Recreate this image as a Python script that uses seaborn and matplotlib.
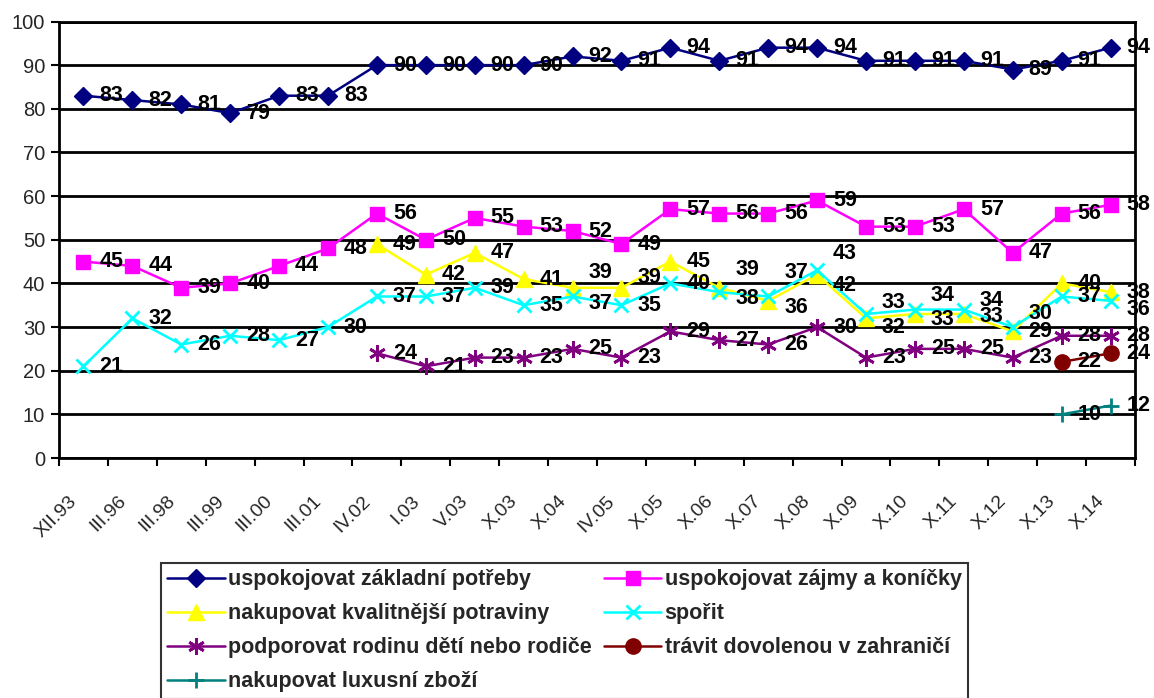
import numpy as np
import pandas as pd
import matplotlib
matplotlib.use("Agg")
import matplotlib.pyplot as plt
import matplotlib.transforms as mtransforms
import seaborn as sns

categories = ["XII.93", "III.96", "III.98", "III.99", "III.00", "III.01", "IV.02", "I.03",
              "V.03", "X.03", "X.04", "IV.05", "X.05", "X.06", "X.07", "X.08", "X.09",
              "X.10", "X.11", "X.12", "X.13", "X.14"]
nan = np.nan
zakladni = [83, 82, 81, 79, 83, 83, 90, 90, 90, 90, 92, 91, 94, 91, 94, 94, 91, 91, 91, 89, 91, 94]
zajmy = [45, 44, 39, 40, 44, 48, 56, 50, 55, 53, 52, 49, 57, 56, 56, 59, 53, 53, 57, 47, 56, 58]
potraviny = [nan, nan, nan, nan, nan, nan, 49, 42, 47, 41, 39, 39, 45, 39, 36, 42, 32, 33, 33, 29, 40, 38]
sporit = [21, 32, 26, 28, 27, 30, 37, 37, 39, 35, 37, 35, 40, 38, 37, 43, 33, 34, 34, 30, 37, 36]
rodina = [nan, nan, nan, nan, nan, nan, 24, 21, 23, 23, 25, 23, 29, 27, 26, 30, 23, 25, 25, 23, 28, 28]
dovolena = [nan] * 20 + [22, 24]
luxus = [nan] * 20 + [10, 12]

series_names = ["uspokojovat základní potřeby", "uspokojovat zájmy a koníčky",
                "nakupovat kvalitnější potraviny", "spořit",
                "podporovat rodinu dětí nebo rodiče", "trávit dovolenou v zahraničí",
                "nakupovat luxusní zboží"]
series_values = [zakladni, zajmy, potraviny, sporit, rodina, dovolena, luxus]

styles = [
    dict(color="#000080", marker="D", ms=9),
    dict(color="#FF00FF", marker="s", ms=10),
    dict(color="#FFFF00", marker="^", ms=11),
    dict(color="#00FFFF", marker="x", ms=10, mew=2),
    dict(color="#800080", marker=(6, 2, 0), ms=12, mew=2),
    dict(color="#800000", marker="o", ms=11),
    dict(color="#008080", marker="+", ms=11, mew=2),
]

# vertical nudges of some data labels (pixels, + = up), as placed in the original
label_nudge = {
    ("nakupovat kvalitnější potraviny", "X.04"): 15,
    ("nakupovat kvalitnější potraviny", "IV.05"): 10,
    ("nakupovat kvalitnější potraviny", "X.06"): 18,
    ("nakupovat kvalitnější potraviny", "X.07"): -7,
    ("nakupovat kvalitnější potraviny", "X.08"): -11,
    ("nakupovat kvalitnější potraviny", "X.09"): -9,
    ("nakupovat kvalitnější potraviny", "X.10"): -6,
    ("nakupovat kvalitnější potraviny", "X.11"): -3,
    ("spořit", "X.04"): -7,
    ("spořit", "X.06"): -6,
    ("spořit", "X.07"): 24,
    ("spořit", "X.08"): 17,
    ("spořit", "X.09"): 11,
    ("spořit", "X.10"): 14,
    ("spořit", "X.11"): 9,
    ("spořit", "X.12"): 14,
    ("spořit", "X.14"): -9,
}

rows = []
for name, vals in zip(series_names, series_values):
    for i, v in enumerate(vals):
        rows.append(dict(series=name, pos=i, category=categories[i], value=v))
df = pd.DataFrame(rows)

sns.set_style("white")
plt.rcParams["font.family"] = ["Liberation Sans", "DejaVu Sans"]

fig = plt.figure(figsize=(11.54, 6.98), dpi=100)
ax = fig.add_axes([59 / 1154, 1 - 458 / 698, (1135 - 59) / 1154, (458 - 21.5) / 698])

handles = {}
for name, st in zip(series_names, styles):
    sub = df[(df["series"] == name) & df["value"].notna()]
    sns.lineplot(data=sub, x="pos", y="value", ax=ax, color=st["color"], lw=1.8,
                 marker=st["marker"], markersize=st["ms"], markeredgewidth=st.get("mew", 1),
                 markeredgecolor=st["color"], markerfacecolor=st["color"], legend=False)
    handles[name] = ax.lines[-1]
    for pos, catg, val in zip(sub["pos"], sub["category"], sub["value"]):
        dy = label_nudge.get((name, catg), 0)
        ax.annotate(f"{int(val)}", (pos, val), xytext=(16, dy),
                    textcoords="offset pixels", ha="left", va="center",
                    fontsize=15.5, fontweight="bold", color="black", zorder=10)

ax.set_xlim(-0.5, len(categories) - 0.5)
ax.set_ylim(0, 100)
ax.set_yticks(np.arange(0, 101, 10))
ax.set_xticks(np.arange(-0.5, len(categories), 1.0))
ax.set_xticklabels([])
ax.set_xticks(np.arange(len(categories)), minor=True)
ax.set_xticklabels(categories, minor=True, rotation=45, ha="right",
                   rotation_mode="anchor", fontsize=14)
ax.tick_params(axis="x", which="minor", length=0, pad=25)
ax.tick_params(axis="both", which="major", direction="out", length=6, width=1.5,
               color="black", labelsize=14.5)
ax.tick_params(axis="x", which="major", bottom=True)
ax.tick_params(axis="y", which="major", left=True, pad=4)
offset = mtransforms.ScaledTranslation(-15 / 100, 0, fig.dpi_scale_trans)
for lbl in ax.get_xticklabels(minor=True):
    lbl.set_transform(lbl.get_transform() + offset)

ax.yaxis.grid(True, color="black", lw=2)
ax.set_axisbelow(True)
for sp in ax.spines.values():
    sp.set_color("black")
    sp.set_linewidth(2)
ax.set_xlabel("")
ax.set_ylabel("")

order = [series_names[i] for i in [0, 2, 4, 6, 1, 3, 5]]
leg = fig.legend([handles[n] for n in order], order, ncol=2, loc="upper left",
                 bbox_to_anchor=(161 / 1154, 1 - 563 / 698), borderaxespad=0,
                 prop=dict(size=15.5, weight="bold"), frameon=True, fancybox=False,
                 edgecolor="black", handlelength=2.65, handletextpad=0.15,
                 columnspacing=0.6, labelspacing=0.6, borderpad=0.3)
leg.get_frame().set_linewidth(1.5)

fig.savefig("out.png", dpi=100)
